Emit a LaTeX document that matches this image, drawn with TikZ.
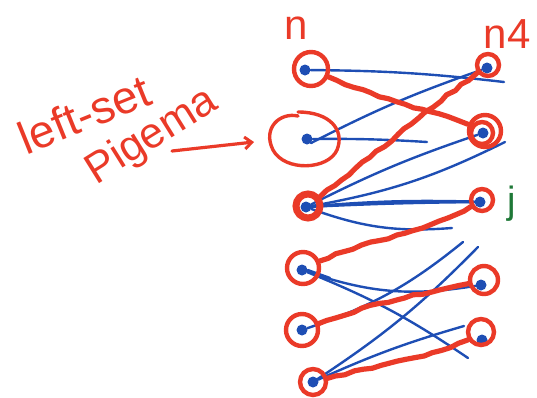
\documentclass[tikz,border=0pt]{standalone}
\usepackage{fontspec}
\setmainfont{Liberation Sans}
\usetikzlibrary{arrows.meta,decorations.pathmorphing}
\definecolor{inkred}{RGB}{234,58,40}
\definecolor{inkblue}{RGB}{30,78,180}
\definecolor{inkgreen}{RGB}{30,120,55}
\begin{document}
\begin{tikzpicture}[x=1pt,y=-1pt,
  vtx/.style={circle,fill=inkblue,inner sep=0pt,minimum size=11pt},
  ring/.style={circle,draw=inkred,line width=4.4pt,inner sep=0pt},
  bedge/.style={draw=inkblue,line width=2.4pt,line cap=round},
  redge/.style={draw=inkred,line width=5.2pt,line cap=round,line join=round,
    decorate,decoration={random steps,segment length=9pt,amplitude=1.1pt}},
  ink/.style={text=inkred,inner sep=0pt},
  redarrow/.style={draw=inkred,line width=3.2pt,line cap=round,
    -{Straight Barb[length=7pt,width=12pt,line width=3pt]}}]
\pgfmathsetseed{7}
\useasboundingbox (0,0) rectangle (537,397);

% headings of the two sides
\node[ink,font=\fontsize{42}{42}\selectfont] (hn) at (296,28) {n};
\node[ink,font=\fontsize{42}{42}\selectfont] (hm) at (507,34) {n4};
\node[text=inkgreen,inner sep=0pt,font=\fontsize{38}{38}\selectfont] (hj) at (512,204) {j};

% handwritten caption and its arrow
\node[ink,rotate=22,font=\fontsize{46}{46}\selectfont] (cap1) at (84,114) {left-set};
\node[ink,rotate=32,font=\fontsize{43}{43}\selectfont] (cap2) at (152,137) {Pigema};
\coordinate (a0) at (172,151);
\coordinate (a1) at (254,142);
\draw[redarrow] (a0) -- (a1);

% vertices of the left set
\node[vtx] (L1) at (305,70) {};
\node[vtx] (L2) at (307,139) {};
\node[vtx] (L3) at (306,207) {};
\node[vtx] (L4) at (302,270) {};
\node[vtx] (L5) at (302,330) {};
\node[vtx] (L6) at (313,382) {};
% vertices of the right set
\node[vtx] (R1) at (487,68) {};
\node[vtx] (R2) at (483,133) {};
\node[vtx] (R3) at (480,202) {};
\node[vtx] (R4) at (481,285) {};
\node[vtx] (R5) at (482,340) {};

% loose ends of unfinished strokes
\coordinate (e1) at (504,82);
\coordinate (e2) at (427,142);
\coordinate (e3) at (505,142);
\coordinate (e4) at (452,228);
\coordinate (e5) at (468,358);
\coordinate (e6) at (330,278);
\coordinate (e7) at (463,242);
\coordinate (e8) at (478,247);
\coordinate (e9) at (464,326);

% blue edges
\draw[bedge] (L1) to[bend left=3] (e1);
\draw[bedge] (L2.south east) to[bend left=4] (R1);
\draw[bedge] (L2.east) to[bend left=2] (e2);
\draw[bedge] (L3) to[bend left=4] (R2);
\draw[bedge] (L3) to[bend right=8] (e3);
\draw[bedge,line width=3pt] (L3) to[bend left=3] (R3);
\draw[bedge] (L3) to[bend left=1] (R3);
\draw[bedge] (L3) to[bend right=12] (e4);
\draw[bedge] (L4) to[bend right=14] (R4);
\draw[bedge] (L4) to[bend left=6] (e5);
\draw[bedge] (L4.east) -- (e6);
\draw[bedge] (L5) to[bend right=10] (e7);
\draw[bedge] (L6) to[bend right=6] (e8);
\draw[bedge] (L6) to[bend left=4] (e9);

% red rings round chosen vertices
\node[ring,minimum size=34pt] (cL1) at (311,69) {};
\draw[inkred,line width=3.4pt,line cap=round] (298,112) .. controls (330,112) and (345,130) .. (337,150)
  .. controls (328,170) and (285,172) .. (273,150) .. controls (262,128) and (280,112) .. (298,116);
\node[ring,minimum size=24pt,line width=7pt] (cL3) at (308,206) {};
\node[ring,minimum size=32pt] (cL4) at (303,268) {};
\node[ring,minimum size=32pt] (cL5) at (302,330) {};
\node[ring,minimum size=26pt] (cL6) at (313,382) {};
\node[ring,minimum size=22pt] (cR1) at (488,65) {};
\node[ring,minimum size=32pt] (cR2) at (485,131) {};
\node[ring,minimum size=22pt] (cR2b) at (482,133) {};
\node[ring,minimum size=22pt] (cR3) at (482,200) {};
\node[ring,minimum size=28pt] (cR4) at (484,280) {};
\node[ring,minimum size=26pt] (cR5) at (481,332) {};

% red matching edges
\draw[redge] (cL1) .. controls (380,100) and (430,110) .. (cR2);
\draw[redge] (cL3) .. controls (380,150) and (440,100) .. (cR1);
\draw[redge] (cL4) .. controls (370,240) and (430,230) .. (cR3);
\draw[redge] (cL5) .. controls (380,300) and (440,290) .. (cR4);
\draw[redge] (cL6) .. controls (380,365) and (440,355) .. (cR5);
\end{tikzpicture}
\end{document}
